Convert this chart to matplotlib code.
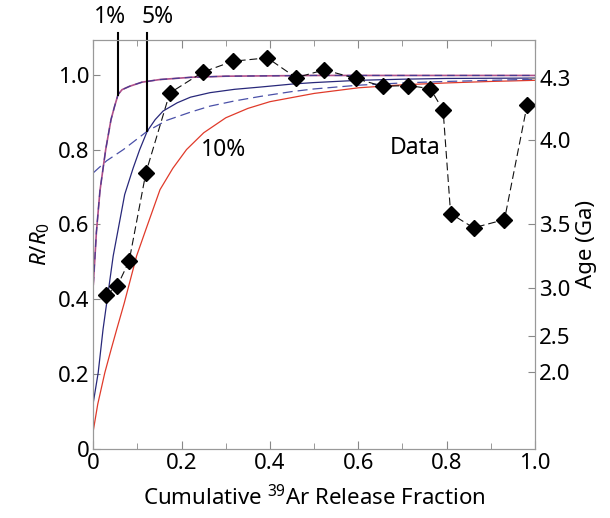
import numpy as np
import matplotlib
matplotlib.use("Agg")
import matplotlib.pyplot as plt

plt.rcParams['font.family'] = ['Noto Sans', 'DejaVu Sans']
plt.rcParams['mathtext.fontset'] = 'custom'
plt.rcParams['mathtext.rm'] = 'Noto Sans'
plt.rcParams['mathtext.it'] = 'Noto Sans:italic'

# measured step-heating data
data_f = [0.028, 0.054, 0.081, 0.119, 0.173, 0.248, 0.316, 0.394, 0.459, 0.523,
          0.594, 0.655, 0.712, 0.763, 0.792, 0.809, 0.861, 0.931, 0.982]
data_r = [0.411, 0.435, 0.502, 0.738, 0.951, 1.007, 1.036, 1.045, 0.992, 1.013,
          0.990, 0.969, 0.971, 0.963, 0.905, 0.629, 0.591, 0.613, 0.918]

# model curves
p1_f = [0, 0.007, 0.015, 0.028, 0.04, 0.048, 0.056, 0.065, 0.082, 0.11, 0.15, 0.22, 0.3, 0.5, 1.0]
p1_r = [0.44, 0.58, 0.69, 0.80, 0.88, 0.915, 0.947, 0.96, 0.969, 0.98, 0.987, 0.993, 0.996, 0.998, 0.998]

p5s_f = [0, 0.011, 0.022, 0.045, 0.071, 0.09, 0.105, 0.122, 0.14, 0.158, 0.19, 0.22,
         0.264, 0.32, 0.378, 0.45, 0.5, 0.6, 0.7, 0.8, 1.0]
p5s_r = [0.125, 0.204, 0.32, 0.516, 0.68, 0.75, 0.80, 0.849, 0.88, 0.903, 0.925, 0.94,
         0.952, 0.961, 0.967, 0.975, 0.979, 0.985, 0.988, 0.99, 0.991]

p5d_f = [0, 0.03, 0.068, 0.122, 0.166, 0.22, 0.264, 0.32, 0.378, 0.45, 0.5, 0.6, 0.7, 0.8, 0.9, 1.0]
p5d_r = [0.738, 0.77, 0.80, 0.849, 0.878, 0.90, 0.916, 0.93, 0.942, 0.955, 0.962, 0.972,
         0.978, 0.982, 0.985, 0.988]

p10_f = [0, 0.01, 0.026, 0.04, 0.053, 0.07, 0.098, 0.12, 0.151, 0.18, 0.211, 0.25, 0.3,
         0.35, 0.4, 0.5, 0.6, 0.7, 0.8, 0.9, 1.0]
p10_r = [0.05, 0.12, 0.204, 0.265, 0.32, 0.39, 0.516, 0.59, 0.693, 0.75, 0.80, 0.845, 0.885,
         0.91, 0.928, 0.95, 0.965, 0.973, 0.978, 0.982, 0.985]

# marker lines for 1% and 5%
mark_f = [0.0556, 0.122]
mark_r = [0.947, 0.849]
mark_txt = ['1%', '5%']

x_ticks = [0, 0.2, 0.4, 0.6, 0.8, 1.0]
x_labels = ['0', '0.2', '0.4', '0.6', '0.8', '1.0']
y_ticks = [0, 0.2, 0.4, 0.6, 0.8, 1.0]
y_labels = ['0', '0.2', '0.4', '0.6', '0.8', '1.0']
age_ticks = [2.0, 2.5, 3.0, 3.5, 4.0, 4.3]   # Ga

lam = 5.543e-4   # per Myr
C = 9.92


def age_to_r(t):
    return (np.exp(lam * t * 1000.0) - 1.0) / C


fig = plt.figure(figsize=(6.1, 5.18), dpi=100)
ax = fig.add_axes([0.153, 0.133, 0.724, 0.79])

red = '#e03a2a'
navy = '#28287a'
blue = '#4a50a8'

ax.plot(p10_f, p10_r, color=red, lw=0.9)
ax.plot(p5s_f, p5s_r, color=navy, lw=0.9)
ax.plot(p5d_f, p5d_r, color=blue, lw=0.9, dashes=(8, 4))
ax.plot(p1_f, p1_r, color='#b0508a', lw=1.2)
ax.plot(p1_f, p1_r, color='#4a3a90', lw=0.9, dashes=(6, 4))

ax.plot(data_f, data_r, color='#111111', lw=0.8, dashes=(7, 3.5),
        marker='D', ms=8, mfc='black', mec='black')

for f, r, t in zip(mark_f, mark_r, mark_txt):
    ax.plot([f, f], [r, 1.112], color='black', lw=1.5, clip_on=False)
ax.text(0.037, 1.122, '1%', ha='center', va='bottom', fontsize=16.5)
ax.text(0.145, 1.122, '5%', ha='center', va='bottom', fontsize=16.5)
ax.text(0.294, 0.80, '10%', ha='center', va='center', fontsize=16.5)
ax.text(0.729, 0.805, 'Data', ha='center', va='center', fontsize=16.5)

ax.set_xlim(0, 1.0)
ax.set_ylim(0, 1.093)
ax.set_xticks(x_ticks)
ax.set_xticklabels(x_labels)
ax.set_xticks(np.arange(0.1, 1.0, 0.2), minor=True)
ax.set_yticks(y_ticks)
ax.set_yticklabels(y_labels)
ax.tick_params(axis='both', which='both', direction='in', colors='#888888',
               labelcolor='black', labelsize=16)
ax.tick_params(axis='x', which='major', length=6, top=True, pad=3)
ax.tick_params(axis='x', which='minor', length=4, top=True)
ax.tick_params(axis='y', which='major', length=5, pad=3)
for s in ax.spines.values():
    s.set_color('#999999')

ax.set_xlabel('Cumulative $^{39}$Ar Release Fraction', fontsize=16, labelpad=8)
ax.set_ylabel('$R/R_0$', fontsize=16, labelpad=4)

ax2 = ax.twinx()
ax2.set_ylim(ax.get_ylim())
ax2.set_yticks([age_to_r(t) for t in age_ticks])
ax2.set_yticklabels(['%.1f' % t for t in age_ticks])
ax2.tick_params(axis='y', direction='in', length=5, colors='#888888',
                labelcolor='black', labelsize=16, pad=3)
for s in ax2.spines.values():
    s.set_color('#999999')
ax2.set_ylabel('Age (Ga)', fontsize=16, labelpad=4)

fig.savefig('out.png', dpi=100)
